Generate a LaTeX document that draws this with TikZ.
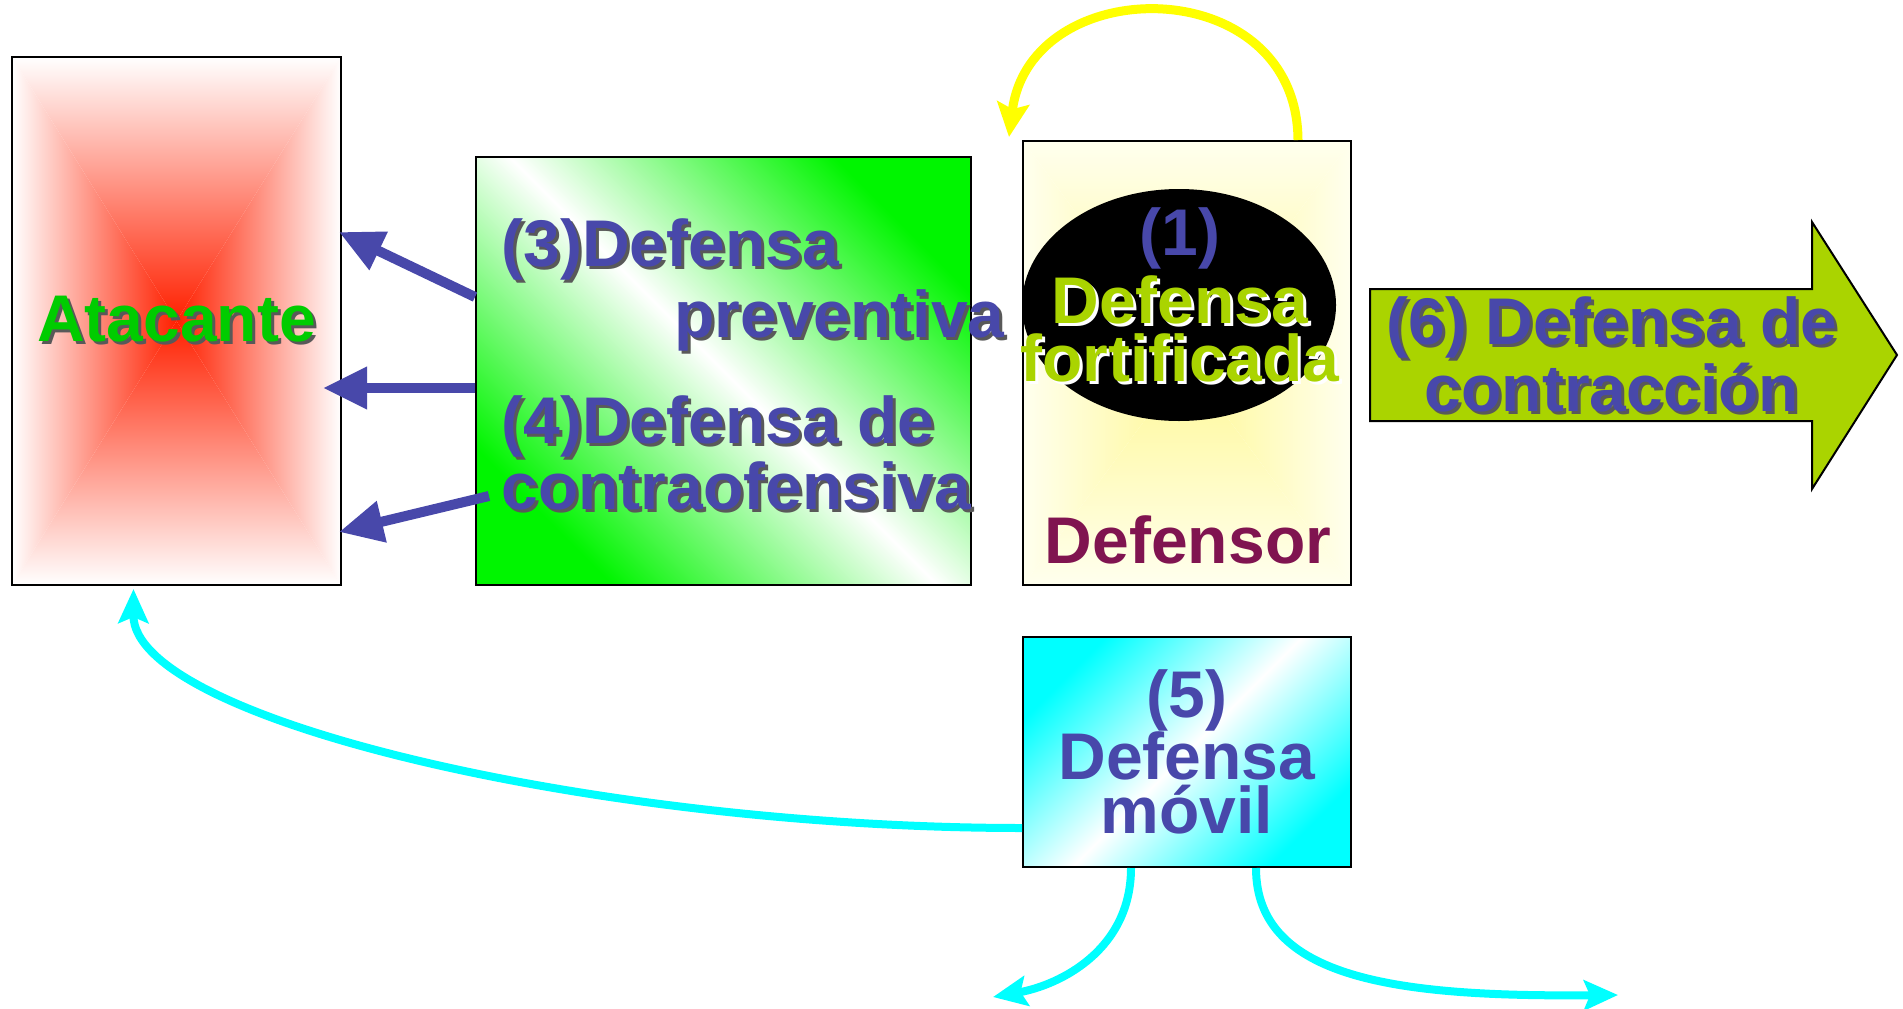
\documentclass[tikz,border=0pt]{standalone}
\usepackage{fontspec}
\setmainfont{Liberation Sans}
\usetikzlibrary{arrows.meta,shapes.geometric}

\definecolor{txtblue}{RGB}{72,72,170}
\definecolor{atkgreen}{RGB}{0,204,0}
\definecolor{atkred}{RGB}{255,32,0}
\definecolor{limegreen}{RGB}{170,212,0}
\definecolor{dfsred}{RGB}{128,20,80}
\definecolor{dfsyellow}{RGB}{255,248,150}
\definecolor{dfspale}{RGB}{255,255,238}
\definecolor{boxgreen}{RGB}{0,245,0}
\definecolor{movcyan}{RGB}{0,255,255}
\definecolor{arcyellow}{RGB}{255,255,0}

\newcommand{\shd}[2][black!65]{\leavevmode\rlap{\kern3pt\raisebox{-3pt}{\color{#1}#2}}#2}

\tikzset{
  big/.style={font=\fontsize{66}{58}\selectfont\bfseries},
  box/.style={draw=black, line width=2pt, inner sep=0pt},
  glow/.style 2 args={path picture={
    \path (path picture bounding box.center) coordinate (pc);
    \shade[top color=#2, bottom color=#1] (path picture bounding box.north west) -- (path picture bounding box.north east) -- (pc) -- cycle;
    \shade[top color=#1, bottom color=#2] (path picture bounding box.south west) -- (path picture bounding box.south east) -- (pc) -- cycle;
    \shade[left color=#2, right color=#1] (path picture bounding box.north west) -- (path picture bounding box.south west) -- (pc) -- cycle;
    \shade[left color=#1, right color=#2] (path picture bounding box.north east) -- (path picture bounding box.south east) -- (pc) -- cycle;
  }},
  bluearrow/.style={draw=txtblue, line width=10pt, -{Triangle[length=44pt,width=40pt]}},
  cyanarrow/.style={draw=movcyan, line width=8pt, -{Stealth[length=34pt,width=30pt,inset=6pt]}},
  yelarrow/.style={draw=arcyellow, line width=9pt, -{Stealth[length=34pt,width=32pt,inset=6pt]}}
}

\begin{document}
\begin{tikzpicture}[x=1pt,y=-1pt]
\useasboundingbox (0,0) rectangle (1903,1009);

\node[box, glow={atkred}{white}, minimum width=329pt, minimum height=528pt, big, text=atkgreen] (atk) at (176.5,321) {\shd{Atacante}};
\node[box, top color=boxgreen, bottom color=boxgreen, middle color=white, shading angle=-45, minimum width=495pt, minimum height=428pt] (grn) at (723.5,371) {};
\node[box, glow={dfsyellow}{dfspale}, minimum width=328pt, minimum height=444pt] (dfs) at (1187,363) {};
\node[ellipse, fill=black, inner sep=0pt, minimum width=314pt, minimum height=232pt] (elp) at (1179,305) {};
\node[box, top color=movcyan, bottom color=movcyan, middle color=white, shading angle=45, minimum width=328pt, minimum height=230pt, big, font=\fontsize{66}{54}\selectfont\bfseries, text=txtblue, align=center] (mov) at (1187,752) {(5)\\Defensa\\móvil};
\draw[line width=2pt, fill=limegreen] (1370,289) -- (1812,289) -- (1812,222) -- (1897,355) -- (1812,489) -- (1812,421) -- (1370,421) -- cycle;

\node[big, text=txtblue, align=left, anchor=base west] (prev) at (498,337) {\shd{(3)Defensa}\\[5pt]\hspace*{173pt}\shd{preventiva}};
\node[big, text=txtblue, align=left, anchor=base west] (cofe) at (498,509) {\shd{(4)Defensa de}\\\shd{contraofensiva}};
\node[big, text=limegreen, align=center, anchor=base] (fort) at (1180,381) {\textcolor{txtblue}{(1)}\\[5pt]\shd[white]{Defensa}\\\shd[white]{fortificada}};
\node[big, text=dfsred, anchor=base] (dname) at (1188,563) {Defensor};
\node[big, text=txtblue, align=center, anchor=base] (contr) at (1612,411) {\shd{(6) Defensa de}\\\shd{contracción}};

\coordinate (movL) at (993,997);
\coordinate (movR) at (1618,995);

\draw[yelarrow] ([xshift=-54pt]dfs.north east) .. controls (1297,-30) and (1030,-30) .. ([xshift=-13pt,yshift=3pt]dfs.north west);
\draw[bluearrow] ([yshift=74pt]grn.west) -- ([xshift=-3pt,yshift=89pt]atk.east);
\draw[bluearrow] ([yshift=-17pt]grn.west) -- ([xshift=-19pt,yshift=-67pt]atk.east);
\draw[bluearrow] ([xshift=14pt,yshift=-125pt]grn.west) -- ([xshift=-3pt,yshift=-211pt]atk.east);
\draw[cyanarrow] ([yshift=-76pt]mov.west) .. controls (600,828) and (133,720) .. ([xshift=-43pt,yshift=-3pt]atk.south);
\draw[cyanarrow] ([xshift=-56pt]mov.south) .. controls (1131,950) and (1060,985) .. (movL);
\draw[cyanarrow] ([xshift=69pt]mov.south) .. controls (1256,980) and (1400,997) .. (movR);
\end{tikzpicture}
\end{document}
